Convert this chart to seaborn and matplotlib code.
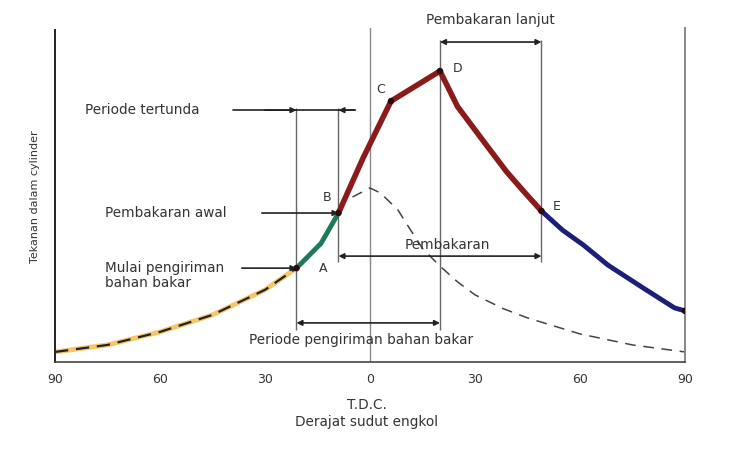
import matplotlib
matplotlib.use("Agg")
import matplotlib.pyplot as plt
import pandas as pd
import seaborn as sns

# --- data (crank angle in degrees, pressure in arbitrary units 0-100) ---
kompresi_x = [-90, -75, -60, -45, -30, -21]
kompresi_y = [3.0, 5.1, 9.0, 14.1, 21.6, 28.1]

awal_x = [-21, -14, -9]
awal_y = [28.1, 35.5, 44.6]

tertunda_x = [-9, -2, 6, 20, 25, 33, 39, 44, 49]
tertunda_y = [44.6, 61.0, 78.1, 87.1, 76.5, 65.3, 57.0, 51.0, 45.2]

ekspansi_x = [49, 55, 61, 68, 78, 87, 90]
ekspansi_y = [45.2, 39.5, 35.0, 29.0, 22.2, 16.2, 15.3]

motoring_x = [-5, 0, 3, 8, 11, 15, 20, 25, 30, 38, 45, 60, 75, 90]
motoring_y = [49.4, 52.1, 50.6, 45.5, 40.5, 34.0, 28.7, 24.0, 20.1, 16.0, 13.2, 8.4, 5.1, 3.0]

titik_nama = ["A", "B", "C", "D", "E"]
titik_x = [-21, -9, 6, 20, 49]
titik_y = [28.1, 44.6, 78.1, 87.1, 45.2]

tick_pos = [-90, -60, -30, 0, 30, 60, 90]
tick_label = ["90", "60", "30", "0", "30", "60", "90"]

sns.set_style("white")
plt.rcParams["font.family"] = ["DejaVu Sans"]

fig = plt.figure(figsize=(7.5, 4.5), dpi=100)
ax = fig.add_axes([0.0733, 0.1956, 0.84, 0.7422])

TXT = "#333333"
GRID = "#777777"
FS = 9.8

# garis bantu vertikal
ax.axvline(0, color="#888888", lw=1.0, zorder=1)
ax.vlines([-21, 20], 9.6, [76.0, 96.4], color="#666666", lw=1.0, zorder=1)
ax.vlines([-9, 49], 29.9, [76.0, 96.4], color="#666666", lw=1.0, zorder=1)

# kurva
df_k = pd.DataFrame({"x": kompresi_x, "y": kompresi_y})
sns.lineplot(data=df_k, x="x", y="y", ax=ax, color="#f4b33c", lw=3.5, alpha=0.75, sort=False, zorder=2)
sns.lineplot(data=df_k, x="x", y="y", ax=ax, color="#222222", lw=1.6, sort=False,
             zorder=3).lines[-1].set_dashes([6, 3.5])
sns.lineplot(x=motoring_x, y=motoring_y, ax=ax, color="#444444", lw=1.1, sort=False,
             zorder=2).lines[-1].set_dashes([7, 5])
sns.lineplot(x=awal_x, y=awal_y, ax=ax, color="#1e7a57", lw=3.5, sort=False, zorder=4)
sns.lineplot(x=tertunda_x, y=tertunda_y, ax=ax, color="#8b1a1a", lw=4, sort=False, zorder=4)
sns.lineplot(x=ekspansi_x, y=ekspansi_y, ax=ax, color="#1b1f7a", lw=3.5, sort=False, zorder=4)
sns.scatterplot(x=titik_x + [90], y=titik_y + [15.3], ax=ax, color="#2a0a0a", s=22, zorder=5,
                edgecolor="none")

for nama, x, y in zip(titik_nama, titik_x, titik_y):
    dx, dy = {"A": (7.5, 0), "B": (-3.3, 4.5), "C": (-2.9, 3.6), "D": (4.9, 0.9), "E": (4.4, 1.5)}[nama]
    ax.text(x + dx, y + dy, nama, fontsize=9, color=TXT, ha="center", va="center")

arrow = dict(arrowstyle="-|>", color="#222222", lw=1.2, mutation_scale=8, shrinkA=0, shrinkB=0)
darrow = dict(arrowstyle="<|-|>", color="#222222", lw=1.2, mutation_scale=8, shrinkA=0, shrinkB=0)

# Periode tertunda
ax.plot([-39.1, -4.3], [75.4, 75.4], color="#222222", lw=1.2)
ax.annotate("", xy=(-21, 75.4), xytext=(-30, 75.4), arrowprops=arrow)
ax.annotate("", xy=(-9, 75.4), xytext=(-4.3, 75.4), arrowprops=arrow)
ax.text(-81.4, 75.4, "Periode tertunda", fontsize=FS, color=TXT, ha="left", va="center")

# Pembakaran awal
ax.annotate("", xy=(-9, 44.6), xytext=(-30.9, 44.6), arrowprops=arrow)
ax.text(-75.7, 44.6, "Pembakaran awal", fontsize=FS, color=TXT, ha="left", va="center")

# Mulai pengiriman bahan bakar
ax.annotate("", xy=(-21, 28.1), xytext=(-36.6, 28.1), arrowprops=arrow)
ax.text(-75.7, 25.8, "Mulai pengiriman\nbahan bakar", fontsize=FS, color=TXT, ha="left",
        va="center", linespacing=1.1)

# Pembakaran
ax.annotate("", xy=(49, 31.7), xytext=(-9, 31.7), arrowprops=darrow)
ax.text(22, 35.0, "Pembakaran", fontsize=FS, color=TXT, ha="center", va="center")

# Periode pengiriman bahan bakar
ax.annotate("", xy=(20, 11.7), xytext=(-21, 11.7), arrowprops=darrow)
ax.text(-2.6, 6.6, "Periode pengiriman bahan bakar", fontsize=FS, color=TXT, ha="center", va="center")

# Pembakaran lanjut
ax.annotate("", xy=(49, 95.8), xytext=(20, 95.8), arrowprops=darrow)
ax.text(34.3, 102.4, "Pembakaran lanjut", fontsize=FS, color=TXT, ha="center", va="center",
        clip_on=False)

ax.set_xlim(-90, 90)
ax.set_ylim(0, 100)
ax.set_xticks(tick_pos)
ax.set_xticklabels(tick_label)
ax.set_yticks([])
ax.set_xlabel("")
ax.set_ylabel("")
ax.tick_params(axis="x", direction="in", length=4, color=GRID, labelsize=9, labelcolor=TXT, pad=8)

sns.despine(ax=ax, top=True, right=False)
ax.spines["left"].set_color("#222222")
ax.spines["left"].set_linewidth(1.4)
ax.spines["bottom"].set_color("#444444")
ax.spines["bottom"].set_linewidth(1.2)
ax.spines["right"].set_color("#888888")
ax.spines["right"].set_linewidth(1.4)
ax.spines["left"].set_bounds(0, 99.4)

fig.text(0.489, 0.100, "T.D.C.", fontsize=FS, color=TXT, ha="center", va="center")
fig.text(0.489, 0.062, "Derajat sudut engkol", fontsize=FS, color=TXT, ha="center", va="center")
fig.text(0.047, 0.562, "Tekanan dalam cylinder", fontsize=8, color=TXT, ha="center", va="center",
         rotation=90)

fig.savefig("out.png", dpi=100, facecolor="white")
